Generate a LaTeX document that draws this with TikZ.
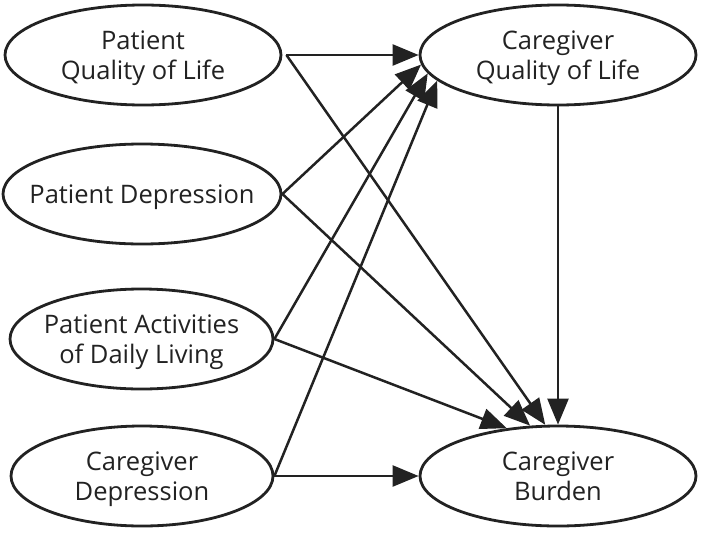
\documentclass[tikz,border=0pt]{standalone}
\usepackage{fontspec}
\setmainfont{Open Sans}
\usepackage{tikz}
\usetikzlibrary{shapes, arrows.meta}

\definecolor{ink}{RGB}{34,34,34}

\tikzset{
  latent/.style={draw=ink, line width=2.8pt, ellipse, inner xsep=-20pt, inner ysep=0pt,
    align=center, minimum height=100pt, text depth=0pt, text=ink,
    font=\fontsize{25.5}{30}\selectfont},
  effect/.style={draw=ink, line width=2.5pt, -{Triangle[length=26pt,width=21pt]}}
}

\begin{document}
\begin{tikzpicture}[x=1pt, y=-1pt]
\useasboundingbox (0,0) rectangle (703,533);
\node[latent, minimum width=276pt] (pqol) at (143,55) {Patient\\Quality of Life};
\node[latent, minimum width=278pt] (pdep) at (142,194) {Patient Depression};
\node[latent, minimum width=263pt] (padl) at (141.5,339) {Patient Activities\\of Daily Living};
\node[latent, minimum width=262pt] (cdep) at (142,476) {Caregiver\\Depression};
\node[latent, minimum width=276pt] (cqol) at (558,55) {Caregiver\\Quality of Life};
\node[latent, minimum width=276pt] (cbur) at (558,476) {Caregiver\\Burden};

\draw ([xshift=4pt]pqol.east) edge[effect] (cqol.west) edge[effect] (cbur.104);
\draw (pdep.east) edge[effect] (cqol.184) edge[effect] (cbur.119);
\draw (padl.east) edge[effect] (cqol.188) edge[effect] (cbur.137);
\draw (cdep.east) edge[effect] (cqol.192) edge[effect] (cbur.west);
\draw (cqol.south) edge[effect] (cbur.north);
\end{tikzpicture}
\end{document}
